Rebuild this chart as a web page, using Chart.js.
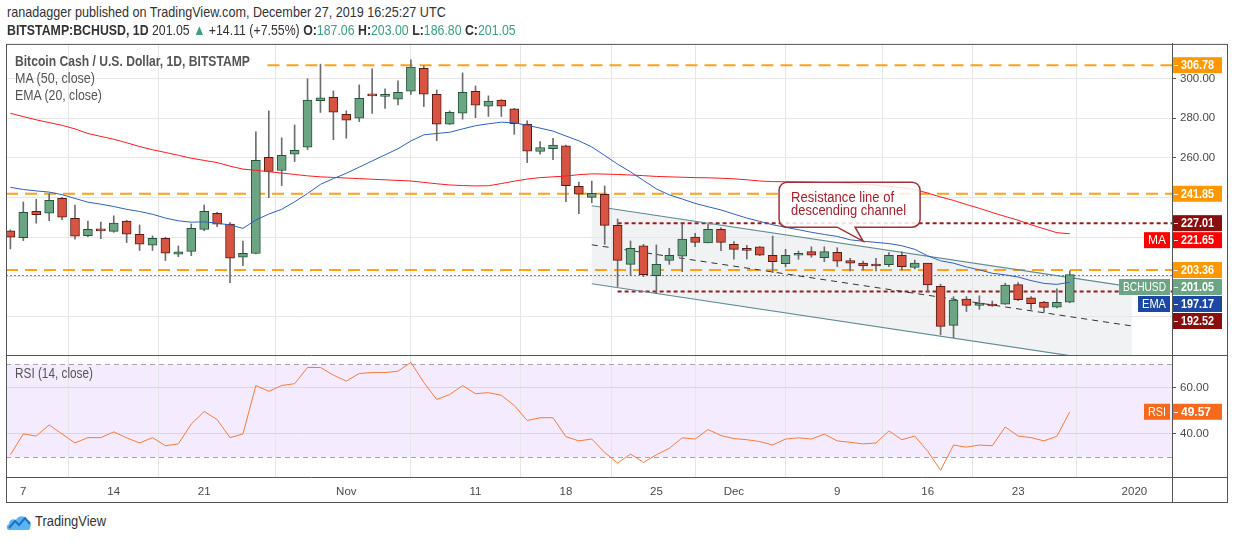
<!DOCTYPE html>
<html>
<head>
<meta charset="utf-8">
<title>BCHUSD 1D</title>
<script src="https://cdn.jsdelivr.net/npm/chart.js@4.4.1/dist/chart.umd.min.js"></script>
<style>
  html, body { margin: 0; padding: 0; background: #fff; }
  body {
    width: 1234px; height: 540px; position: relative; overflow: hidden;
    font-family: "Liberation Sans", Arial, sans-serif;
    color: #333;
  }
  .txt { position: absolute; white-space: nowrap; z-index: 2; transform-origin: 0 50%; }
  #head1 { left: 7px; top: 3px; font-size: 15px; line-height: 18px; }
  #head2 { left: 7px; top: 21px; font-size: 15px; line-height: 18px; }
  .up { color: #3a9f84; }
  .legend { left: 15px; font-size: 14px; line-height: 17px; color: #555; }
  #chart { position: absolute; left: 6px; top: 44px; z-index: 1; }
  #logo { left: 6px; top: 512px; font-size: 14px; line-height: 18px; color: #333; }
  #logo svg { vertical-align: middle; margin-right: 3px; }
</style>
</head>
<body>
<div class="txt" id="head1" data-w="439">ranadagger published on TradingView.com, December 27, 2019 16:25:27 UTC</div>
<div class="txt" id="head2" data-w="509"><b>BITSTAMP:BCHUSD, 1D</b> 201.05 <span class="up">&#9650;</span> +14.11 (+7.55%) <b>O:</b><span class="up">187.06</span> <b>H:</b><span class="up">203.00</span> <b>L:</b><span class="up">186.80</span> <b>C:</b><span class="up">201.05</span></div>
<div class="txt legend" data-w="235" style="top:53px;font-weight:bold;color:#555">Bitcoin Cash / U.S. Dollar, 1D, BITSTAMP</div>
<div class="txt legend" data-w="80" style="top:70px">MA (50, close)</div>
<div class="txt legend" data-w="87" style="top:87px">EMA (20, close)</div>
<div class="txt legend" data-w="78" style="top:365px">RSI (14, close)</div>
<div class="txt" id="logo"><svg width="26" height="18" viewBox="0 0 26 18"><path d="M3 17 C0 17 0 12 3 11 C3 7 7 5 10 7 C12 2 19 2 21 7 C25 7 26 13 23 17 Z" fill="#5eb4f0"/><polyline points="3,15 9,8 13,12 19,5 24,11" fill="none" stroke="#1a73c8" stroke-width="2"/></svg><span class="fitin" data-w="71">TradingView</span></div>
<canvas id="chart" width="1223" height="459"></canvas>

<script>
// daily candles from 6 Oct 2019 to 27 Dec 2019 (day 0 = 7 Oct)
const opens = [223.1, 219.7, 233.0, 232.0, 239.6, 229.5, 220.7, 223.6, 222.9, 228.0,
  221.4, 215.9, 219.4, 211.3, 212.8, 223.9, 232.0, 226.5, 209.8, 211.7,
  260.3, 253.6, 261.8, 265.4, 288.9, 290.6, 282.0, 280.0, 291.6, 291.0,
  289.6, 293.6, 305.2, 292.1, 277.0, 282.5, 293.6, 286.1, 289.1, 284.7,
  277.0, 263.2, 264.6, 266.0, 245.6, 240.0, 241.6, 225.9, 206.2, 215.6,
  200.5, 208.2, 210.3, 220.0, 217.0, 223.9, 216.3, 214.3, 215.0, 210.8,
  206.6, 210.8, 212.6, 209.6, 212.3, 208.1, 206.8, 206.3, 206.1, 210.8,
  204.6, 206.8, 195.1, 175.4, 188.7, 185.5, 186.1, 186.1, 196.0, 189.3,
  187.2, 184.6, 187.06];
const highs = [223.6, 237.7, 239.1, 241.8, 240.0, 236.2, 228.1, 227.5, 230.7, 228.5,
  226.1, 220.6, 219.9, 215.5, 226.6, 236.2, 232.5, 227.3, 218.0, 273.1,
  283.7, 270.1, 276.6, 299.9, 307.3, 293.8, 283.7, 296.8, 304.9, 294.8,
  298.9, 309.5, 306.4, 294.3, 283.7, 302.9, 296.3, 291.3, 289.4, 285.0,
  278.7, 268.2, 269.9, 266.5, 247.8, 248.3, 245.8, 229.1, 218.0, 216.3,
  216.0, 214.3, 226.4, 221.9, 226.4, 224.7, 217.7, 215.8, 215.2, 220.5,
  213.8, 212.9, 215.1, 215.1, 214.6, 209.3, 207.8, 209.3, 212.1, 212.5,
  208.4, 206.8, 196.2, 189.9, 189.9, 190.3, 187.7, 196.7, 197.0, 189.9,
  187.6, 193.8, 203.00];
const lows = [214.0, 218.2, 227.0, 228.3, 228.8, 218.9, 220.2, 219.2, 222.4, 217.2,
  213.2, 213.2, 208.1, 210.1, 210.6, 223.2, 225.3, 197.0, 205.6, 211.5,
  239.9, 246.0, 258.1, 264.2, 282.9, 269.2, 269.9, 278.3, 282.4, 284.9,
  286.7, 292.0, 285.9, 268.7, 276.8, 279.5, 280.3, 280.9, 280.9, 271.9,
  257.6, 261.8, 259.1, 237.9, 231.8, 237.3, 216.3, 195.0, 200.5, 200.0,
  191.6, 206.2, 202.5, 215.1, 217.0, 213.1, 208.8, 208.9, 210.6, 202.0,
  204.9, 208.8, 209.8, 207.6, 205.1, 202.9, 203.4, 202.9, 205.1, 203.4,
  203.9, 192.3, 170.7, 169.2, 182.4, 183.5, 185.0, 186.0, 187.9, 183.5,
  181.9, 184.2, 186.80];
const closes = [219.9, 232.5, 231.3, 238.6, 230.0, 220.4, 223.9, 223.1, 227.0, 221.4,
  216.4, 219.4, 211.8, 212.5, 224.4, 233.0, 226.5, 209.3, 211.8, 258.8,
  253.1, 261.3, 263.8, 289.1, 290.3, 283.0, 279.0, 290.1, 291.3, 291.2,
  293.1, 305.8, 292.1, 277.0, 283.0, 293.1, 286.6, 288.6, 286.1, 277.3,
  263.3, 265.2, 266.5, 245.9, 241.6, 242.1, 225.9, 208.2, 214.3, 201.0,
  206.2, 210.8, 219.0, 217.3, 223.9, 217.3, 213.8, 213.3, 210.8, 207.6,
  210.8, 211.8, 210.8, 212.6, 207.8, 206.8, 205.4, 205.4, 210.8, 205.1,
  206.9, 195.8, 174.9, 188.2, 185.5, 186.7, 185.2, 195.8, 188.4, 186.4,
  184.5, 187.06, 201.05];
const ma50 = [282.5, 280.8, 279.2, 277.8, 276.4, 274.6, 272.3, 270.8, 269.4, 267.6,
  265.7, 264.1, 262.7, 261.3, 259.8, 258.7, 257.6, 255.8, 254.3, 253.7,
  253.0, 252.3, 251.6, 250.9, 250.4, 250.1, 249.8, 249.5, 249.2, 248.9,
  248.6, 248.3, 247.6, 246.9, 246.3, 246.0, 245.8, 245.9, 247.0, 248.2,
  249.3, 250.0, 250.4, 250.8, 251.5, 251.9, 251.8, 251.6, 251.3, 251.0,
  250.6, 250.4, 250.2, 250.0, 249.9, 249.7, 249.4, 248.9, 248.3, 248.0,
  247.9, 247.8, 247.7, 247.5, 247.3, 247.0, 246.6, 246.2, 245.6, 244.9,
  244.0, 242.2, 240.2, 238.5, 236.4, 234.5, 232.4, 230.4, 228.5, 226.2,
  224.2, 222.2, 221.65];
const ema20 = [245.1, 244.0, 243.3, 242.7, 241.4, 239.5, 237.6, 236.6, 235.4, 234.0,
  232.9, 231.5, 229.6, 228.2, 227.5, 227.7, 227.0, 226.1, 224.4, 228.6,
  231.6, 234.0, 237.8, 242.0, 246.6, 249.5, 252.2, 255.3, 258.4, 261.5,
  264.6, 268.5, 271.6, 272.3, 272.9, 274.6, 276.2, 277.2, 278.0, 277.7,
  276.4, 275.0, 273.5, 271.0, 268.6, 265.5, 261.2, 256.8, 252.9, 248.6,
  244.3, 241.3, 239.2, 237.0, 235.3, 233.7, 231.6, 229.6, 227.9, 226.2,
  224.9, 223.7, 222.4, 221.3, 220.3, 218.6, 217.9, 217.3, 216.7, 215.6,
  213.8, 210.5, 208.0, 206.8, 204.9, 203.4, 201.7, 200.9, 199.8, 198.0,
  196.6, 196.1, 197.17];
const rsi14 = [31.0, 40.0, 39.1, 43.9, 40.0, 36.1, 38.4, 38.4, 40.9, 38.3,
  36.1, 38.4, 34.9, 35.7, 44.3, 49.7, 46.2, 38.4, 40.0, 60.9,
  58.4, 60.9, 61.7, 68.7, 68.7, 65.4, 62.8, 66.1, 66.5, 66.5,
  67.1, 70.9, 62.2, 54.9, 57.0, 60.9, 57.4, 57.8, 56.7, 52.3,
  45.8, 47.0, 47.0, 38.8, 37.0, 37.8, 32.0, 27.4, 31.3, 27.7,
  31.0, 33.8, 38.3, 37.8, 41.9, 39.3, 38.0, 37.5, 36.7, 35.2,
  37.8, 38.3, 37.8, 39.9, 37.0, 36.4, 35.7, 36.1, 41.3, 37.5,
  39.1, 32.5, 24.3, 35.2, 34.3, 35.2, 34.9, 43.0, 39.1, 38.4,
  37.0, 39.0, 49.57];
const days = opens.map((_, k) => k - 1);

const tickDays = [0, 7, 14, 25, 35, 42, 49, 55, 63, 70, 77, 86];
const tickLabels = ['7', '14', '21', 'Nov', '11', '18', '25', 'Dec', '9', '16', '23', '2020'];
const priceTicks = [180, 200, 220, 240, 260, 280, 300];
const rsiTicks = [40, 60];

// drawn levels and channel
const orangeLevels = [306.78, 241.85, 203.36];
const redLevels = [227.01, 192.52];
const lastPrice = 201.05;
const lastMA = 221.65;
const lastEMA = 197.17;
const lastRSI = 49.57;
const channelDays = [44.0, 85.8];
const channelTop = [235.8, 194.8];
const channelBottom = [196.4, 155.4];
const noteLines = ['Resistance line of', 'descending channel'];
const noteTip = [65.0, 217.9];

// squeeze html labels to the widths they have in the snapshot
document.querySelectorAll('[data-w]').forEach(el => {
  const w = el.getBoundingClientRect().width;
  if (w > 0) {
    el.style.display = 'inline-block';
    el.style.transformOrigin = '0 50%';
    el.style.transform = 'scaleX(' + (+el.dataset.w / w).toFixed(3) + ')';
  }
});

const FONT = '"Liberation Sans", Arial, sans-serif';
Chart.defaults.font.family = FONT;
Chart.defaults.font.size = 11.5;
Chart.defaults.color = '#4a4a4a';

const UP = '#6ba583', DOWN = '#d75442';

function seg(ctx, x1, y1, x2, y2) {
  ctx.beginPath();
  ctx.moveTo(x1, y1);
  ctx.lineTo(x2, y2);
  ctx.stroke();
}

function tag(ctx, ax, yc, bg, text, name, nameW) {
  ctx.fillStyle = bg;
  ctx.fillRect(ax, yc - 8, 49, 16);
  ctx.strokeStyle = 'rgba(255,255,255,0.9)';
  ctx.lineWidth = 1;
  seg(ctx, ax + 1, Math.round(yc) + 0.5, ax + 5, Math.round(yc) + 0.5);
  ctx.font = 'bold 12px ' + FONT;
  ctx.textBaseline = 'middle';
  ctx.textAlign = 'left';
  ctx.fillStyle = '#fff';
  ctx.fillText(text, ax + 8, yc + 0.5, 33);
  if (name) {
    ctx.font = '12px ' + FONT;
    const w = nameW;
    ctx.fillStyle = bg;
    ctx.fillRect(ax - 3 - w, yc - 8, w, 16);
    ctx.fillStyle = '#fff';
    ctx.textAlign = 'center';
    ctx.fillText(name, ax - 3 - w / 2, yc + 0.5, w - 8);
  }
}

const drawings = {
  id: 'drawings',
  beforeDraw(chart) {
    const { ctx, chartArea: a, scales: { x, y, rsi } } = chart;
    ctx.save();
    const y70 = rsi.getPixelForValue(70), y30 = rsi.getPixelForValue(30);
    ctx.fillStyle = 'rgba(149, 60, 255, 0.1)';
    ctx.fillRect(a.left, y70, a.right - a.left, y30 - y70);

    ctx.beginPath();
    ctx.rect(a.left, y.top, a.right - a.left, y.bottom - y.top);
    ctx.clip();
    const cx1 = x.getPixelForValue(channelDays[0]), cx2 = x.getPixelForValue(channelDays[1]);
    ctx.beginPath();
    ctx.moveTo(cx1, y.getPixelForValue(channelTop[0]));
    ctx.lineTo(cx2, y.getPixelForValue(channelTop[1]));
    ctx.lineTo(cx2, y.getPixelForValue(channelBottom[1]));
    ctx.lineTo(cx1, y.getPixelForValue(channelBottom[0]));
    ctx.closePath();
    ctx.fillStyle = 'rgba(120, 123, 134, 0.1)';
    ctx.fill();
    ctx.restore();
  },
  beforeDatasetsDraw(chart) {
    const { ctx, chartArea: a, scales: { x, y, rsi } } = chart;
    ctx.save();
    // RSI bands
    ctx.strokeStyle = '#a7a2ad';
    ctx.lineWidth = 1;
    ctx.setLineDash([5, 4]);
    [70, 30].forEach(v => {
      const py = Math.round(rsi.getPixelForValue(v)) + 0.5;
      seg(ctx, a.left, py, a.right, py);
    });

    ctx.beginPath();
    ctx.rect(a.left, y.top, a.right - a.left, y.bottom - y.top);
    ctx.clip();

    // last price
    ctx.strokeStyle = '#4f9d6d';
    ctx.setLineDash([2, 2]);
    const py = Math.round(y.getPixelForValue(lastPrice)) + 0.5;
    seg(ctx, a.left, py, a.right, py);

    // horizontal levels
    ctx.lineWidth = 2;
    ctx.strokeStyle = 'rgba(255, 152, 0, 0.9)';
    ctx.setLineDash([12, 7]);
    orangeLevels.forEach((v, k) => {
      const x1 = k === 0 ? x.getPixelForValue(18.9) : a.left;
      seg(ctx, x1, y.getPixelForValue(v), a.right, y.getPixelForValue(v));
    });
    ctx.strokeStyle = '#9b1b1b';
    ctx.setLineDash([4, 3]);
    redLevels.forEach(v => {
      seg(ctx, x.getPixelForValue(46.0), y.getPixelForValue(v), a.right, y.getPixelForValue(v));
    });

    // descending channel
    const cx1 = x.getPixelForValue(channelDays[0]), cx2 = x.getPixelForValue(channelDays[1]);
    ctx.lineWidth = 1.2;
    ctx.setLineDash([]);
    ctx.strokeStyle = '#5f8b93';
    seg(ctx, cx1, y.getPixelForValue(channelTop[0]), cx2, y.getPixelForValue(channelTop[1]));
    seg(ctx, cx1, y.getPixelForValue(channelBottom[0]), cx2, y.getPixelForValue(channelBottom[1]));
    ctx.strokeStyle = '#333';
    ctx.lineWidth = 1;
    ctx.setLineDash([6, 5]);
    seg(ctx, cx1, y.getPixelForValue((channelTop[0] + channelBottom[0]) / 2),
      cx2, y.getPixelForValue((channelTop[1] + channelBottom[1]) / 2));
    ctx.restore();
  },
  afterDatasetsDraw(chart) {
    const { ctx, scales: { x, y } } = chart;
    const tx = x.getPixelForValue(noteTip[0]), ty = y.getPixelForValue(noteTip[1]);
    const L = tx - 84, R = tx + 57, T = ty - 59, B = ty - 14, r = 8;
    ctx.save();
    ctx.beginPath();
    ctx.moveTo(L + r, T);
    ctx.lineTo(R - r, T);
    ctx.arcTo(R, T, R, T + r, r);
    ctx.lineTo(R, B - r);
    ctx.arcTo(R, B, R - r, B, r);
    ctx.lineTo(tx - 8, B);
    ctx.lineTo(tx, ty);
    ctx.lineTo(tx - 26, B);
    ctx.lineTo(L + r, B);
    ctx.arcTo(L, B, L, B - r, r);
    ctx.lineTo(L, T + r);
    ctx.arcTo(L, T, L + r, T, r);
    ctx.closePath();
    ctx.fillStyle = 'rgba(255, 255, 255, 0.85)';
    ctx.fill();
    ctx.strokeStyle = '#a3303a';
    ctx.lineWidth = 1.5;
    ctx.stroke();
    ctx.fillStyle = '#a3202c';
    ctx.font = '14px ' + FONT;
    ctx.textAlign = 'left';
    ctx.textBaseline = 'alphabetic';
    ctx.fillText(noteLines[0], L + 12, T + 20, 103);
    ctx.fillText(noteLines[1], L + 12, T + 33, 115);
    ctx.restore();
  },
  afterDraw(chart) {
    const { ctx, chartArea: a, scales: { y, rsi } } = chart;
    ctx.save();
    ctx.strokeStyle = '#555';
    ctx.lineWidth = 1;
    const L = a.left + 0.5, T = a.top + 0.5, R = chart.width - 1.5, B = a.bottom + 25.5;
    ctx.strokeRect(L, T, R - L, B - T);
    const sep = Math.round(y.bottom) + 0.5;
    seg(ctx, L, sep, R, sep);
    seg(ctx, L, Math.round(a.bottom) + 0.5, R, Math.round(a.bottom) + 0.5);
    seg(ctx, Math.round(a.right) + 0.5, T, Math.round(a.right) + 0.5, B);

    // price tags, pushed apart when they overlap
    const ax = Math.round(a.right) + 1;
    const tags = [
      { v: orangeLevels[0], bg: '#ff9800' },
      { v: orangeLevels[1], bg: '#ff9800' },
      { v: redLevels[0], bg: '#8b0e0e' },
      { v: lastMA, bg: '#ff0000', name: 'MA', w: 26 },
      { v: orangeLevels[2], bg: '#ff9800' },
      { v: lastPrice, bg: UP, name: 'BCHUSD', w: 51 },
      { v: lastEMA, bg: '#1c48a3', name: 'EMA', w: 32 },
      { v: redLevels[1], bg: '#8b0e0e' }
    ];
    let prev = -100;
    tags.forEach(t => {
      let yc = y.getPixelForValue(t.v);
      if (yc < prev + 17) yc = prev + 17;
      prev = yc;
      tag(ctx, ax, yc, t.bg, t.v.toFixed(2), t.name, t.w);
    });
    tag(ctx, ax, rsi.getPixelForValue(lastRSI), '#f7691c', lastRSI.toFixed(2), 'RSI', 26);
    ctx.restore();
  }
};

function makeConfig() {
  return {
    type: 'bar',
    data: {
      datasets: [
        {
          type: 'line', label: 'MA 50', data: days.map((d, k) => ({ x: d, y: ma50[k] })),
          borderColor: '#ff1a1a', borderWidth: 1, pointRadius: 0, yAxisID: 'y', order: 0
        },
        {
          type: 'line', label: 'EMA 20', data: days.map((d, k) => ({ x: d, y: ema20[k] })),
          borderColor: '#2f5fc1', borderWidth: 1, pointRadius: 0, yAxisID: 'y', order: 0
        },
        {
          type: 'line', label: 'RSI', data: days.map((d, k) => ({ x: d, y: rsi14[k] })),
          borderColor: '#f77b35', borderWidth: 1, pointRadius: 0, yAxisID: 'rsi', order: 0
        },
        {
          label: 'body', data: days.map((d, k) => ({ x: d, y: [opens[k], closes[k]] })),
          backgroundColor: closes.map((c, k) => c >= opens[k] ? UP : DOWN),
          borderColor: closes.map((c, k) => c >= opens[k] ? '#225437' : '#5b1a13'),
          borderWidth: 1, borderSkipped: false, barThickness: 9, minBarLength: 2,
          grouped: false, yAxisID: 'y', order: 1
        },
        {
          label: 'wick', data: days.map((d, k) => ({ x: d, y: [lows[k], highs[k]] })),
          backgroundColor: '#6e6e70', borderWidth: 0, barThickness: 1,
          grouped: false, yAxisID: 'y', order: 2
        }
      ]
    },
    options: {
      responsive: false,
      animation: false,
      events: [],
      layout: { padding: 0 },
      plugins: { legend: { display: false }, tooltip: { enabled: false } },
      scales: {
        x: {
          type: 'linear', min: -1.34, max: 88.91, offset: false,
          afterBuildTicks: s => { s.ticks = tickDays.map(v => ({ value: v })); },
          afterFit: s => { s.height = 26; },
          ticks: { autoSkip: false, maxRotation: 0, padding: 8, callback: (v, i) => tickLabels[i] },
          grid: { color: '#e6e6e6', drawTicks: false },
          border: { display: false }
        },
        y: {
          type: 'linear', position: 'right', stack: 'pane', stackWeight: 311,
          min: 160.45, max: 317.53,
          afterBuildTicks: s => { s.ticks = priceTicks.map(v => ({ value: v })); },
          afterFit: s => { s.width = 57; },
          ticks: { padding: 4, callback: v => v >= 260 ? v.toFixed(2) : '' },
          grid: { color: '#e6e6e6', tickLength: 4, tickColor: '#555' },
          border: { color: '#555' }
        },
        rsi: {
          type: 'linear', position: 'right', stack: 'pane', stackWeight: 122,
          min: 21.4, max: 74.1,
          afterBuildTicks: s => { s.ticks = rsiTicks.map(v => ({ value: v })); },
          afterFit: s => { s.width = 57; },
          ticks: { padding: 4, callback: v => v.toFixed(2) },
          grid: { color: '#dcd3e6', tickLength: 4, tickColor: '#555' },
          border: { color: '#555' }
        }
      }
    },
    plugins: [drawings]
  };
}

const canvas = document.getElementById('chart');
let chart = new Chart(canvas, makeConfig());
const shift = Math.round(chart.chartArea.top);
if (shift > 0) {
  chart.destroy();
  canvas.width = 1223;
  canvas.height = 459 + shift;
  canvas.style.top = (44 - shift) + 'px';
  canvas.style.width = '1223px';
  canvas.style.height = (459 + shift) + 'px';
  chart = new Chart(canvas, makeConfig());
}
</script>
</body>
</html>
